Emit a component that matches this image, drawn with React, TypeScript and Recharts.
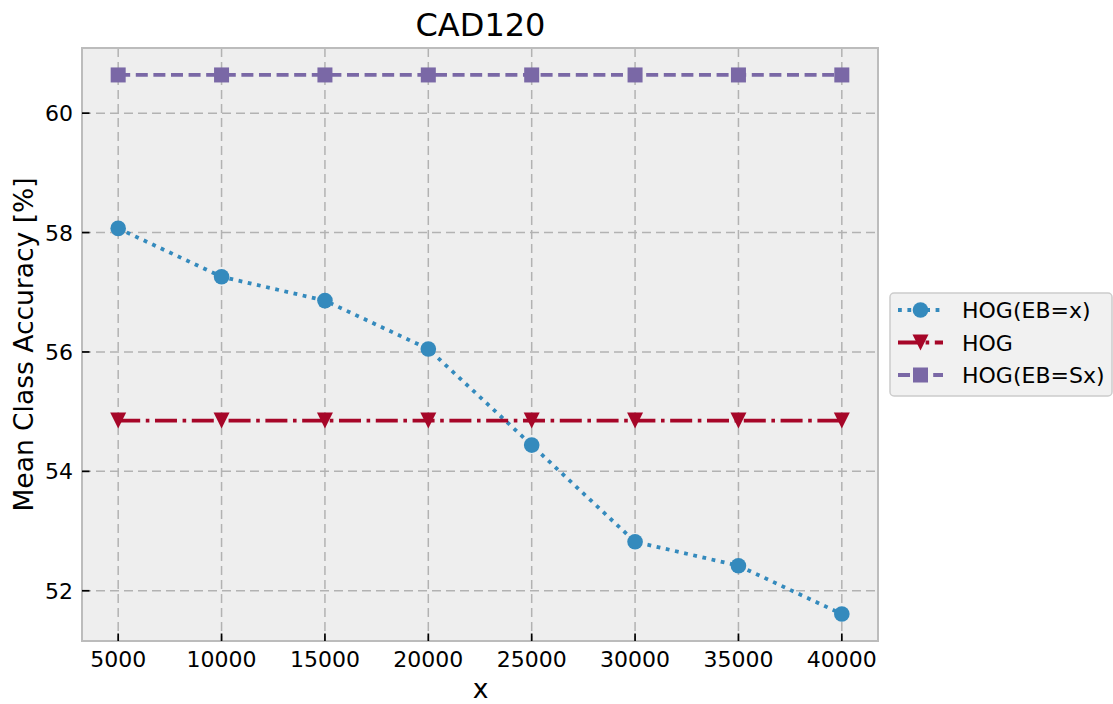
import React from 'react';
import { LineChart, Line, XAxis, YAxis, CartesianGrid, ReferenceArea } from 'recharts';

const xValues = [5000, 10000, 15000, 20000, 25000, 30000, 35000, 40000];
const hogEbX = [58.07, 57.26, 56.86, 56.05, 54.44, 52.82, 52.42, 51.61];
const hogPlain = [54.85, 54.85, 54.85, 54.85, 54.85, 54.85, 54.85, 54.85];
const hogEbSx = [60.64, 60.64, 60.64, 60.64, 60.64, 60.64, 60.64, 60.64];
const xTicks = [5000, 10000, 15000, 20000, 25000, 30000, 35000, 40000];
const yTicks = [52, 54, 56, 58, 60];
const xDomain: [number, number] = [3250, 41750];
const yDomain: [number, number] = [51.1585, 61.0915];
const seriesNames = ['HOG(EB=x)', 'HOG', 'HOG(EB=Sx)'];

const data = xValues.map((x, i) => ({ x, a: hogEbX[i], b: hogPlain[i], c: hogEbSx[i] }));

const FONT = '"DejaVu Sans", sans-serif';
const BLUE = '#348ABD';
const RED = '#A60628';
const PURPLE = '#7A68A6';
const LW = 3.8;
const DOTTED = '3.8 5.6';
const DASHDOT = '22 5.6 3.6 5.6';
const DASHED = '12 5.6';

const circleMark = (cx: number, cy: number, key?: any) => (
  <circle key={key} cx={cx} cy={cy} r={7.8} fill={BLUE} />
);
const triMark = (cx: number, cy: number, key?: any) => (
  <path key={key} d={`M${cx - 8},${cy - 8}L${cx + 8},${cy - 8}L${cx},${cy + 8}Z`} fill={RED} />
);
const sqMark = (cx: number, cy: number, key?: any) => (
  <rect key={key} x={cx - 7.5} y={cy - 7.5} width={15} height={15} fill={PURPLE} />
);

const XTick = (props: any) => {
  const { x, y, payload } = props;
  return (
    <g>
      <line x1={x} x2={x} y1={y} y2={y - 7.5} stroke="#000" strokeWidth={1.7} />
      <text x={x} y={y + 26} textAnchor="middle" fontSize={22} fill="#000" fontFamily={FONT}>
        {payload.value}
      </text>
    </g>
  );
};

const YTick = (props: any) => {
  const { x, y, payload } = props;
  return (
    <g>
      <line x1={x} x2={x + 7.5} y1={y} y2={y} stroke="#000" strokeWidth={1.7} />
      <text x={x - 9} y={y + 8} textAnchor="end" fontSize={22} fill="#000" fontFamily={FONT}>
        {payload.value}
      </text>
    </g>
  );
};

const LegendBox = () => {
  const rows = [
    { name: seriesNames[0], color: BLUE, dash: DOTTED, mark: circleMark },
    { name: seriesNames[1], color: RED, dash: DASHDOT, mark: triMark },
    { name: seriesNames[2], color: PURPLE, dash: DASHED, mark: sqMark },
  ];
  return (
    <svg width={224} height={105} style={{ display: 'block' }}>
      <rect x={1} y={1} width={222} height={103} rx={4} fill="#f1f1f1" stroke="#cccccc" strokeWidth={1.5} />
      {rows.map((r, i) => {
        const cy = 18 + i * 32.5;
        return (
          <g key={r.name}>
            <line x1={9} x2={54} y1={cy} y2={cy} stroke={r.color} strokeWidth={LW} strokeDasharray={r.dash} />
            {r.mark(31.5, cy)}
            <text x={73} y={cy + 8} fontSize={22} fill="#000" fontFamily={FONT}>{r.name}</text>
          </g>
        );
      })}
    </svg>
  );
};

export default function App() {
  return (
    <div style={{ position: 'absolute', left: 0, top: 0, width: 1113, height: 704, background: '#fff' }}>
      <LineChart
        width={1113}
        height={704}
        data={data}
        margin={{ top: 48, right: 235, bottom: 0, left: 0 }}
      >
        <CartesianGrid
          fill="#eeeeee"
          stroke="#b2b2b2"
          strokeWidth={1.5}
          strokeDasharray="9 5"
          verticalValues={xTicks}
          horizontalValues={yTicks}
        />
        <XAxis
          dataKey="x"
          type="number"
          domain={xDomain}
          ticks={xTicks}
          allowDataOverflow
          height={63}
          axisLine={false}
          tickLine={false}
          tickSize={0}
          tickMargin={0}
          tick={<XTick />}
          interval={0}
        />
        <YAxis
          type="number"
          domain={yDomain}
          ticks={yTicks}
          allowDataOverflow
          width={82}
          axisLine={false}
          tickLine={false}
          tickSize={0}
          tickMargin={0}
          tick={<YTick />}
          interval={0}
        />
        <ReferenceArea
          x1={xDomain[0]}
          x2={xDomain[1]}
          y1={yDomain[0]}
          y2={yDomain[1]}
          fill="none"
          fillOpacity={0}
          stroke="#bcbcbc"
          strokeWidth={2}
          ifOverflow="visible"
        />
        <Line
          dataKey="a"
          name={seriesNames[0]}
          stroke={BLUE}
          strokeWidth={LW}
          strokeDasharray={DOTTED}
          isAnimationActive={false}
          dot={(p: any) => circleMark(p.cx, p.cy, `a${p.index}`)}
          activeDot={false}
        />
        <Line
          dataKey="b"
          name={seriesNames[1]}
          stroke={RED}
          strokeWidth={LW}
          strokeDasharray={DASHDOT}
          isAnimationActive={false}
          dot={(p: any) => triMark(p.cx, p.cy, `b${p.index}`)}
          activeDot={false}
        />
        <Line
          dataKey="c"
          name={seriesNames[2]}
          stroke={PURPLE}
          strokeWidth={LW}
          strokeDasharray={DASHED}
          isAnimationActive={false}
          dot={(p: any) => sqMark(p.cx, p.cy, `c${p.index}`)}
          activeDot={false}
        />
      </LineChart>
      <div style={{ position: 'absolute', left: 889, top: 292, width: 224, height: 105 }}>
        <LegendBox />
      </div>
      <svg
        width={1113}
        height={704}
        style={{ position: 'absolute', left: 0, top: 0, pointerEvents: 'none' }}
      >
        <text x={480.5} y={36} textAnchor="middle" fontSize={32} fill="#000" fontFamily={FONT}>CAD120</text>
        <text
          x={0}
          y={0}
          transform="translate(33,344.5) rotate(-90)"
          textAnchor="middle"
          fontSize={26.5}
          fill="#000"
          fontFamily={FONT}
        >
          Mean Class Accuracy [%]
        </text>
        <text x={480.5} y={698} textAnchor="middle" fontSize={26.5} fill="#000" fontFamily={FONT}>x</text>
      </svg>
    </div>
  );
}
